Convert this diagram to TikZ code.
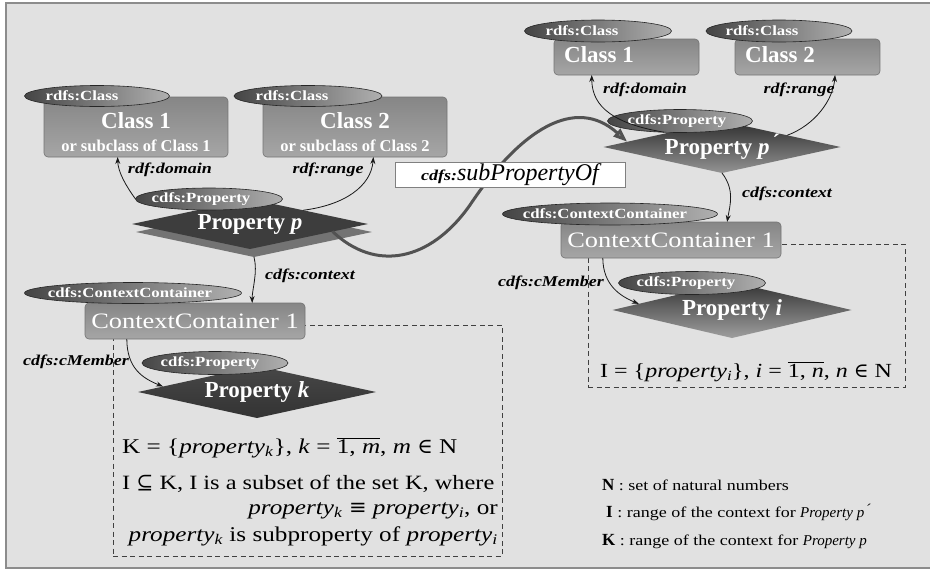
\documentclass[tikz,border=0pt]{standalone}
\usepackage{fontspec}
\setmainfont{Liberation Serif}
\newfontfamily\widefont[FakeStretch=1.2]{Liberation Serif}
\newfontfamily\symfont{DejaVu Serif}
\usetikzlibrary{shapes.geometric,shadows,arrows.meta,calc}
\definecolor{bg}{HTML}{E1E1E1}
\definecolor{framecol}{HTML}{8C8C8C}
\definecolor{boxtop}{HTML}{868686}
\definecolor{boxbot}{HTML}{A6A6A6}
\definecolor{tagdark}{HTML}{454545}
\definecolor{taglight}{HTML}{B0B0B0}
\newcommand\shiftedtag[2]{\makebox[0pt]{\hspace{#1pt}#2\hspace{-#1pt}}}
\newcommand\propsub[1]{\textit{property}\textsubscript{\textit{#1}}}
\tikzset{
  classbox/.style={rectangle, rounded corners=4pt, draw=black!55, line width=0.6pt,
    top color=boxtop, bottom color=boxbot, text=white, inner sep=0pt, outer sep=0pt},
  tag/.style={ellipse, draw=black!85, line width=0.6pt, left color=tagdark, right color=taglight,
    text=white, inner sep=0pt, outer sep=0pt, font=\widefont\bfseries\fontsize{14}{15}\selectfont},
  propdia/.style={diamond, aspect=4.5, inner sep=0pt, outer sep=0pt, text=white,
    font=\bfseries\fontsize{23}{25}\selectfont},
  conn/.style={-{Stealth[length=7pt,width=5pt]}, line width=0.8pt, draw=black!90},
  lab/.style={inner sep=0pt, font=\widefont\bfseries\itshape\fontsize{15}{16}\selectfont},
  dbox/.style={rectangle, draw=black!75, line width=0.9pt, dash pattern=on 5pt off 3.5pt,
    inner sep=0pt, outer sep=0pt},
  subp/.style={line width=3pt, draw=black!68,
    -{Triangle[length=14pt,width=10pt,fill=black!45]}},
  settext/.style={inner sep=0pt, font=\widefont\fontsize{21}{23}\selectfont},
  legtext/.style={inner sep=0pt, anchor=base west, font=\widefont\fontsize{15}{16}\selectfont}
}
\begin{document}
\begin{tikzpicture}[x=1pt, y=-1pt]
\useasboundingbox (0,0) rectangle (930,576);
\fill[white] (0,0) rectangle (930,576);
\draw[framecol, line width=1.2pt, fill=bg] (6,3) rectangle (936,568);

% dashed ranges of the two contexts
\node[dbox, anchor=north west, minimum width=389pt, minimum height=231pt] (kbox) at (113,325) {};
\node[dbox, anchor=north west, minimum width=317pt, minimum height=143pt] (ibox) at (588,244) {};

% ---------- left: Property p ----------
\node[classbox, minimum width=184pt, minimum height=60pt] (c1L) at (136,127) {};
\node[inner sep=0pt, text=white, font=\bfseries\fontsize{23}{25}\selectfont] (c1Lt) at (136,121) {Class 1};
\node[inner sep=0pt, text=white, font=\bfseries\fontsize{16.5}{18}\selectfont] (c1Ls) at (136,146) {or subclass of Class 1};
\node[tag, minimum width=145pt, minimum height=21pt] (tc1L) at (97,96) {\shiftedtag{-15}{rdfs:Class}};

\node[classbox, minimum width=184pt, minimum height=60pt] (c2L) at (355,127) {};
\node[inner sep=0pt, text=white, font=\bfseries\fontsize{23}{25}\selectfont] (c2Lt) at (355,121) {Class 2};
\node[inner sep=0pt, text=white, font=\bfseries\fontsize{16.5}{18}\selectfont] (c2Ls) at (355,146) {or subclass of Class 2};
\node[tag, minimum width=148pt, minimum height=21pt] (tc2L) at (308,96) {\shiftedtag{-16}{rdfs:Class}};

\node[propdia, minimum width=236pt, minimum height=50pt, fill=black!76,
  drop shadow={shadow xshift=4pt, shadow yshift=-8pt, fill=black!55, opacity=1}] (dP) at (250,224) {Property \textit{p}};
\node[tag, minimum width=147pt, minimum height=22pt] (tPL) at (209,199) {\shiftedtag{-8}{cdfs:Property}};

\node[classbox, minimum width=220pt, minimum height=36pt,
  font=\widefont\fontsize{22}{24}\selectfont] (ccL) at (195,321) {ContextContainer 1};
\node[tag, minimum width=217pt, minimum height=21pt] (tccL) at (133,293) {\shiftedtag{-3}{cdfs:ContextContainer}};

\node[propdia, minimum width=238pt, minimum height=52pt, top color=black!72, bottom color=black!80] (dPk) at (257,392) {Property \textit{k}};
\node[tag, minimum width=146pt, minimum height=23pt] (tPk) at (215,363) {\shiftedtag{-5}{cdfs:Property}};

% ---------- right: Property p' ----------
\node[classbox, minimum width=145pt, minimum height=36pt] (c1R) at (626.5,57) {};
\node[inner sep=0pt, anchor=west, text=white, font=\bfseries\fontsize{23}{25}\selectfont] (c1Rt) at (564,55) {Class 1};
\node[tag, minimum width=147pt, minimum height=22pt] (tc1R) at (598,31) {\shiftedtag{-16}{rdfs:Class}};

\node[classbox, minimum width=145pt, minimum height=36pt] (c2R) at (807.5,57) {};
\node[inner sep=0pt, anchor=west, text=white, font=\bfseries\fontsize{23}{25}\selectfont] (c2Rt) at (745,55) {Class 2};
\node[tag, minimum width=146pt, minimum height=22pt] (tc2R) at (779,31) {\shiftedtag{-17}{rdfs:Class}};

\node[propdia, minimum width=237pt, minimum height=52pt, top color=black!82, bottom color=black!42] (dPR) at (722,147) {Property \textit{p}\,\'{}};
\node[tag, minimum width=145pt, minimum height=23pt] (tPR) at (680,121) {\shiftedtag{-3}{cdfs:Property}};

\node[classbox, minimum width=220pt, minimum height=36pt,
  font=\widefont\fontsize{22}{24}\selectfont] (ccR) at (671,240) {ContextContainer 1};
\node[tag, minimum width=215pt, minimum height=22pt] (tccR) at (610,214) {\shiftedtag{-5}{cdfs:ContextContainer}};

\node[propdia, minimum width=239pt, minimum height=56pt, top color=black!80, bottom color=black!38] (dPi) at (732,310) {Property \textit{i}};
\node[tag, minimum width=147pt, minimum height=23pt] (tPi) at (692,283) {\shiftedtag{-6}{cdfs:Property}};

% ---------- relations ----------
\draw[conn] (tPL.west) .. controls (126,186) and (118,172) .. ($(c1L.south west)!0.4!(c1L.south east)$);
\node[lab] (domL) at (170,170) {rdf:domain};
\draw[conn] ($(dP.north)!0.45!(dP.east)$) .. controls (345,205) and (371,186) .. ($(c2L.south west)!0.6!(c2L.south east)$);
\node[lab] (ranL) at (328,170) {rdf:range};
\draw[conn] ($(dP.south)+(4,8)$) .. controls (258,272) and (252,290) .. ($(ccL.north west)!0.76!(ccL.north east)$);
\node[lab] (ctxL) at (310,276) {cdfs:context};
\draw[conn] ($(ccL.south west)!0.19!(ccL.south east)$) .. controls (127,368) and (142,378) .. ($(dPk.west)!0.21!(dPk.north)$);
\node[lab] (memL) at (76,362) {cdfs:cMember};

\draw[conn] (tPR.215) .. controls (603,122) and (592,100) .. ($(c1R.south west)!0.26!(c1R.south east)$);
\node[lab] (domR) at (645,90) {rdf:domain};
\draw[conn] ($(dPR.north)!0.55!(dPR.east)$) .. controls (815,125) and (833,100) .. ($(c2R.south west)!0.69!(c2R.south east)$);
\node[lab] (ranR) at (799,90) {rdf:range};
\draw[conn] (dPR.south) .. controls (735,190) and (730,205) .. ($(ccR.north west)!0.755!(ccR.north east)$);
\node[lab] (ctxR) at (787,194) {cdfs:context};
\draw[conn] ($(ccR.south west)!0.19!(ccR.south east)$) .. controls (603,285) and (620,296) .. ($(dPi.west)!0.22!(dPi.north)$);
\node[lab] (memR) at (551,283) {cdfs:cMember};

% sub-property link
\coordinate (spbend) at (470,205);
\draw[subp] ($(dP.east)!0.3!(dP.south)$) .. controls (375,272) and (430,262) .. (spbend)
  .. controls (520,130) and (575,95) .. ($(dPR.north)!0.8!(dPR.west)$);
\node[draw=black!50, line width=0.6pt, fill=white, minimum width=230pt, minimum height=25pt, inner sep=0pt] (spof) at (510,174.5)
  {{\widefont\bfseries\itshape\fontsize{15}{16}\selectfont cdfs:}{\itshape\fontsize{24}{24}\selectfont subPropertyOf}\hspace{14pt}};

% ---------- set definitions ----------
\node[settext, anchor=base west] (kdef) at (122,453)
  {K = \{\propsub{k}\}, \textit{k} = $\overline{\mbox{1, \textit{m}}}$, \textit{m} {\symfont ∈} N};
\node[settext, anchor=base west, font=\widefont\fontsize{20.3}{22}\selectfont] (ksub) at (122,489)
  {I {\symfont ⊆} K, I is a subset of the set K, where};
\node[settext, anchor=base east] (keq) at (498,514)
  {\propsub{k} {\symfont ≡} \propsub{i}, or};
\node[settext, anchor=base east] (ksp) at (498,541)
  {\propsub{k} is subproperty of \propsub{i}};
\node[settext, anchor=base west, font=\widefont\fontsize{20}{22}\selectfont] (idef) at (600,377)
  {I = \{\propsub{i}\}, \textit{i} = $\overline{\mbox{1, \textit{n}}}$, \textit{n} {\symfont ∈} N};

% ---------- legend ----------
\node[legtext] (legN) at (602,490) {{\normalfont\bfseries\fontsize{17}{17}\selectfont N} : set of natural numbers};
\node[legtext] (legI) at (606,517) {{\normalfont\bfseries\fontsize{17}{17}\selectfont I} : range of the context for {\normalfont\itshape\fontsize{15}{15}\selectfont Property p\,\'{}}};
\node[legtext] (legK) at (602,545) {{\normalfont\bfseries\fontsize{17}{17}\selectfont K} : range of the context for {\normalfont\itshape\fontsize{15}{15}\selectfont Property p}};
\end{tikzpicture}
\end{document}
